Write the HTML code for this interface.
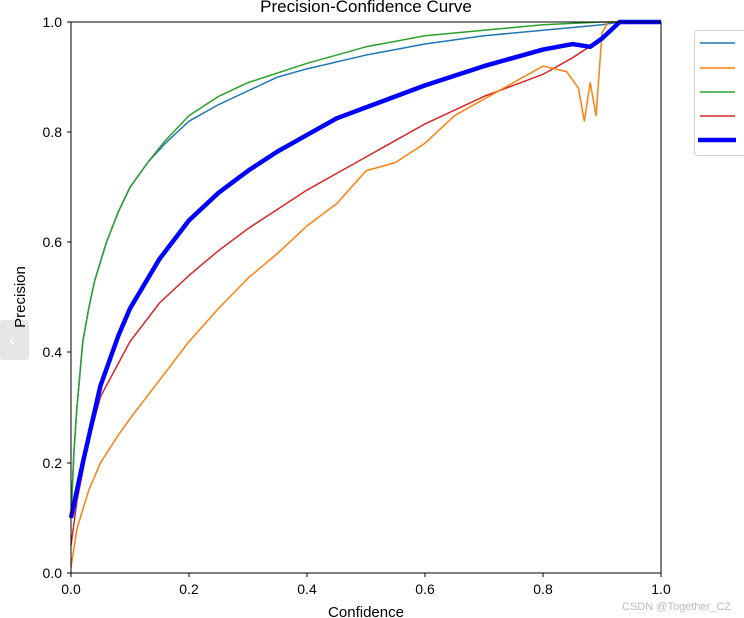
<!DOCTYPE html><html><head><style>body{margin:0;background:#fff}svg{display:block;font-family:"Liberation Sans","DejaVu Sans",sans-serif}</style></head><body>
<svg width="744" height="618" viewBox="0 0 744 618">
<rect width="744" height="618" fill="#fff"/>
<rect x="0" y="320" width="29" height="40" rx="3" fill="#e6e6e6"/>
<text x="9" y="345" font-size="16" fill="#fff">‹</text>
<text x="366" y="12" font-size="17" text-anchor="middle">Precision-Confidence Curve</text>
<g fill="none" stroke-linejoin="round" transform="translate(71,573) scale(590,-551)">
<polyline vector-effect="non-scaling-stroke" stroke="#1f77b4" stroke-width="1.5" points="0,0.1 0.005,0.22 0.01,0.3 0.02,0.42 0.03,0.48 0.04,0.53 0.06,0.6 0.08,0.655 0.1,0.7 0.13,0.745 0.16,0.78 0.2,0.82 0.25,0.85 0.3,0.875 0.35,0.9 0.4,0.915 0.5,0.94 0.6,0.96 0.7,0.975 0.8,0.985 0.9,0.995 0.93,1 1,1"/>
<polyline vector-effect="non-scaling-stroke" stroke="#2ca02c" stroke-width="1.5" points="0,0.1 0.005,0.22 0.01,0.3 0.02,0.42 0.03,0.48 0.04,0.53 0.06,0.6 0.08,0.655 0.1,0.7 0.13,0.745 0.16,0.785 0.2,0.83 0.25,0.865 0.3,0.89 0.4,0.925 0.5,0.955 0.6,0.975 0.7,0.985 0.8,0.995 0.9,1 1,1"/>
<polyline vector-effect="non-scaling-stroke" stroke="#d62728" stroke-width="1.5" points="0,0.05 0.01,0.13 0.03,0.24 0.05,0.32 0.08,0.38 0.1,0.42 0.15,0.49 0.2,0.54 0.25,0.585 0.3,0.625 0.35,0.66 0.4,0.695 0.45,0.725 0.5,0.755 0.55,0.785 0.6,0.815 0.65,0.84 0.7,0.865 0.8,0.905 0.85,0.935 0.9,0.97 0.93,1 1,1"/>
<polyline vector-effect="non-scaling-stroke" stroke="#ff7f0e" stroke-width="1.5" points="0,0.01 0.01,0.08 0.03,0.15 0.05,0.2 0.08,0.25 0.1,0.28 0.15,0.35 0.2,0.42 0.25,0.48 0.3,0.535 0.35,0.58 0.4,0.63 0.45,0.67 0.5,0.73 0.55,0.745 0.6,0.78 0.65,0.83 0.7,0.86 0.75,0.89 0.8,0.92 0.84,0.91 0.86,0.88 0.87,0.82 0.88,0.89 0.89,0.83 0.9,0.98 0.91,1 1,1"/>
<polyline vector-effect="non-scaling-stroke" stroke="#0000ff" stroke-width="4.5" points="0,0.1 0.02,0.2 0.05,0.34 0.08,0.43 0.1,0.48 0.15,0.57 0.2,0.64 0.25,0.69 0.3,0.73 0.35,0.765 0.4,0.795 0.45,0.825 0.5,0.845 0.6,0.885 0.7,0.92 0.8,0.95 0.85,0.96 0.88,0.955 0.9,0.97 0.93,1 1,1"/>
</g>
<rect x="71" y="22" width="590" height="551" fill="none" stroke="#000" stroke-width="1"/>
<g stroke="#000"><line x1="71" y1="573" x2="71" y2="577"/><line x1="189" y1="573" x2="189" y2="577"/><line x1="307" y1="573" x2="307" y2="577"/><line x1="425" y1="573" x2="425" y2="577"/><line x1="543" y1="573" x2="543" y2="577"/><line x1="661" y1="573" x2="661" y2="577"/>
<line x1="67" y1="573" x2="71" y2="573"/><line x1="67" y1="463" x2="71" y2="463"/><line x1="67" y1="352" x2="71" y2="352"/><line x1="67" y1="242" x2="71" y2="242"/><line x1="67" y1="132" x2="71" y2="132"/><line x1="67" y1="22" x2="71" y2="22"/></g>
<g font-size="14" text-anchor="middle"><text x="71" y="594">0.0</text><text x="189" y="594">0.2</text><text x="307" y="594">0.4</text><text x="425" y="594">0.6</text><text x="543" y="594">0.8</text><text x="661" y="594">1.0</text></g>
<g font-size="14" text-anchor="end"><text x="62" y="578">0.0</text><text x="62" y="468">0.2</text><text x="62" y="357">0.4</text><text x="62" y="247">0.6</text><text x="62" y="137">0.8</text><text x="62" y="27">1.0</text></g>
<text x="366" y="617" font-size="15" text-anchor="middle">Confidence</text>
<text transform="translate(25,297) rotate(-90)" font-size="15" text-anchor="middle">Precision</text>
<rect x="694.5" y="30.5" width="60" height="125" rx="3" fill="#fff" stroke="#d0d0d0"/>
<g stroke-width="1.5"><line x1="700" y1="43" x2="735" y2="43" stroke="#1f77b4"/><line x1="700" y1="68" x2="735" y2="68" stroke="#ff7f0e"/><line x1="700" y1="92" x2="735" y2="92" stroke="#2ca02c"/><line x1="700" y1="116" x2="735" y2="116" stroke="#d62728"/><line x1="698" y1="140" x2="736" y2="140" stroke="#0000ff" stroke-width="4.5"/></g>
<text x="731" y="610" font-size="11" fill="#bbb" text-anchor="end">CSDN @Together_CZ</text>
</svg></body></html>
